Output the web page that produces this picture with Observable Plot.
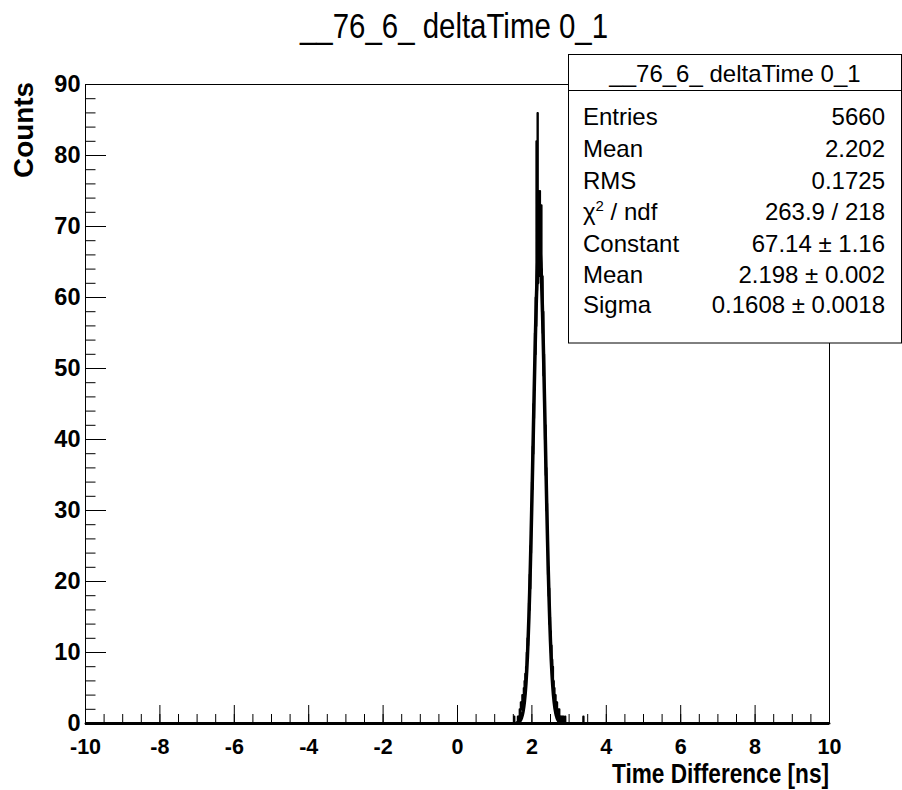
<!DOCTYPE html>
<html><head><meta charset="utf-8">
<script src="https://cdn.jsdelivr.net/npm/d3@7"></script>
<script src="https://cdn.jsdelivr.net/npm/@observablehq/plot@0.6"></script>
<style>
body{margin:0;background:#fff;}
#wrap{position:relative;width:902px;height:790px;overflow:hidden;background:#fff;}
#wrap > svg{position:absolute;left:0;top:0;}
</style></head><body><div id="wrap"></div>
<script>
// ---- data ----
const titleText = "__76_6_ deltaTime 0_1";
const xTitle = "Time Difference [ns]";
const yTitle = "Counts";
const xDomain = [-10, 10];
const yDomain = [0, 90];
const xMajorTicks = [-10, -8, -6, -4, -2, 0, 2, 4, 6, 8, 10];
const yMajorTicks = [0, 10, 20, 30, 40, 50, 60, 70, 80, 90];

// histogram: contiguous bins of width 0.01 ns starting at 1.60 ns
const binWidth = 0.01;
const peakStart = 1.60;
const peakCounts = [
  0,0,1,0,1,1,0,2,1,2,
  3,2,3,2,4,2,4,3,5,4,
  6,5,7,6,8,7,10,9,12,11,
  14,13,17,16,21,19,25,24,29,28,
  34,33,39,38,45,43,50,47,55,52,
  60,56,82,61,68,86,62,69,64,70,
  66,75,63,69,62,73,64,58,63,55,
  58,49,52,45,47,40,42,35,36,30,
  31,26,27,21,22,18,19,14,15,12,
  13,10,11,8,9,7,8,5,6,4,
  5,4,3,4,2,3,2,3,1,2,
  2,1,0,2,1,1,0,1,0,1,
  0,0,1,0,1,0,0,0,0,1,0
];
// isolated entries outside the peak
const strayBins = [1.52, 3.38];
const strayCounts = [1, 1];

// gaus fit curve
const fitX = [1.60,1.62,1.64,1.66,1.68,1.70,1.72,1.74,1.76,1.78,1.80,1.82,1.84,1.86,1.88,1.90,1.92,1.94,1.96,1.98,
  2.00,2.02,2.04,2.06,2.08,2.10,2.12,2.14,2.16,2.18,2.20,2.22,2.24,2.26,2.28,2.30,2.32,2.34,2.36,2.38,
  2.40,2.42,2.44,2.46,2.48,2.50,2.52,2.54,2.56,2.58,2.60,2.62,2.64,2.66,2.68,2.70,2.72,2.74,2.76,2.78,2.80];
const fitY = [0.07,0.11,0.16,0.25,0.38,0.56,0.81,1.16,1.64,2.29,3.14,4.24,5.63,7.37,9.49,12.06,15.06,18.53,22.46,26.78,
  31.46,36.38,41.43,46.46,51.29,55.76,59.69,62.91,65.29,66.72,67.14,66.51,64.89,62.33,58.96,54.90,50.35,45.46,40.42,35.38,
  30.50,25.89,21.63,17.81,14.43,11.51,9.04,6.99,5.33,3.99,2.95,2.14,1.54,1.08,0.75,0.51,0.35,0.23,0.15,0.10,0.06];

// stats box
const statsTitle = "__76_6_ deltaTime 0_1";
const statsNames = ["Entries", "Mean", "RMS", "χ2 / ndf", "Constant", "Mean", "Sigma"];
const statsValues = ["5660", "2.202", "0.1725", "263.9 / 218", "67.14 ± 1.16", "2.198 ± 0.002", "0.1608 ± 0.0018"];

// ---- build histogram outline ----
const bins = [];
strayBins.forEach((b, i) => bins.push({x0: b, x1: b + binWidth, y: strayCounts[i], g: "s" + i}));
peakCounts.forEach((c, i) => bins.push({x0: peakStart + i * binWidth, x1: peakStart + (i + 1) * binWidth, y: c, g: "p", i}));
bins.sort((a, b) => a.x0 - b.x0);
const histPts = [{x: xDomain[0], y: 0}];
bins.forEach((b, k) => {
  const prev = bins[k - 1], next = bins[k + 1];
  const contPrev = prev && prev.g === "p" && b.g === "p";
  const contNext = next && next.g === "p" && b.g === "p";
  if (!contPrev) histPts.push({x: b.x0, y: 0});
  histPts.push({x: b.x0, y: b.y});
  histPts.push({x: b.x1, y: b.y});
  if (!contNext) histPts.push({x: b.x1, y: 0});
});
histPts.push({x: xDomain[1], y: 0});
const fitPts = fitX.map((x, i) => ({x, y: fitY[i]}));

const xMinor = d3.range(xDomain[0], xDomain[1] + 0.001, 0.5);
const yMinor = d3.range(yDomain[0], yDomain[1] + 0.001, 2);

const font = "'Liberation Sans', Arial, Helvetica, sans-serif";
const chart = Plot.plot({
  width: 902, height: 790,
  marginTop: 84, marginRight: 73, marginBottom: 67, marginLeft: 85,
  x: {domain: xDomain, label: null},
  y: {domain: yDomain, label: null},
  style: {fontFamily: font, color: "#000", background: "transparent", overflow: "visible"},
  marks: [
    Plot.axisX(xMinor, {tickSize: -9, tickFormat: () => "", label: null}),
    Plot.axisX(xMajorTicks, {tickSize: -18, tickPadding: 33, fontSize: 21.5, fontWeight: "bold", tickFormat: d => String(d), label: null}),
    Plot.axisY(yMinor, {tickSize: -10.5, tickFormat: () => "", label: null}),
    Plot.axisY(yMajorTicks, {tickSize: -21, tickPadding: 26, fontSize: 23.5, fontWeight: "bold", tickFormat: d => String(d), label: null}),
    Plot.line(fitPts, {x: "x", y: "y", stroke: "#000", strokeWidth: 3.5}),
    Plot.line(histPts, {x: "x", y: "y", stroke: "#000", strokeWidth: 2}),
    Plot.ruleY([0], {stroke: "#000", strokeWidth: 3}),
    Plot.frame({stroke: "#000", strokeWidth: 1})
  ]
});
const wrap = document.getElementById("wrap");
wrap.appendChild(chart);

// ---- overlay: title, axis titles, stats box ----
const ns = "http://www.w3.org/2000/svg";
const ov = document.createElementNS(ns, "svg");
ov.setAttribute("width", 902); ov.setAttribute("height", 790);
ov.setAttribute("font-family", font);
wrap.appendChild(ov);
function el(tag, attrs, text) {
  const e = document.createElementNS(ns, tag);
  for (const k in attrs) e.setAttribute(k, attrs[k]);
  if (text != null) e.textContent = text;
  ov.appendChild(e);
  return e;
}
el("text", {x: 454, y: 38, "text-anchor": "middle", "font-size": 35, textLength: 308, lengthAdjust: "spacingAndGlyphs"}, titleText);
el("text", {x: 829, y: 783, "text-anchor": "end", "font-size": 28, "font-weight": "bold", textLength: 217, lengthAdjust: "spacingAndGlyphs"}, xTitle);
el("text", {transform: "translate(33,82) rotate(-90)", "text-anchor": "end", "font-size": 27, "font-weight": "bold", textLength: 96, lengthAdjust: "spacingAndGlyphs"}, yTitle);

el("rect", {x: 568.5, y: 54.5, width: 333, height: 288.5, fill: "#fff", stroke: "#000", "stroke-width": 1});
el("line", {x1: 568.5, x2: 902, y1: 90.5, y2: 90.5, stroke: "#000", "stroke-width": 1});
el("text", {x: 735, y: 82, "text-anchor": "middle", "font-size": 24}, statsTitle);
const baselines = [125, 157, 189, 220, 252, 283, 313];
statsNames.forEach((n, i) => {
  const t = el("text", {x: 583, y: baselines[i], "font-size": 24});
  if (n.startsWith("χ2")) {
    const a = document.createElementNS(ns, "tspan"); a.textContent = "χ"; t.appendChild(a);
    const b = document.createElementNS(ns, "tspan"); b.textContent = "2"; b.setAttribute("dy", -9); b.setAttribute("font-size", 15); t.appendChild(b);
    const c = document.createElementNS(ns, "tspan"); c.textContent = " / ndf"; c.setAttribute("dy", 9); t.appendChild(c);
  } else t.textContent = n;
  el("text", {x: 885, y: baselines[i], "text-anchor": "end", "font-size": 24}, statsValues[i]);
});
</script></body></html>
